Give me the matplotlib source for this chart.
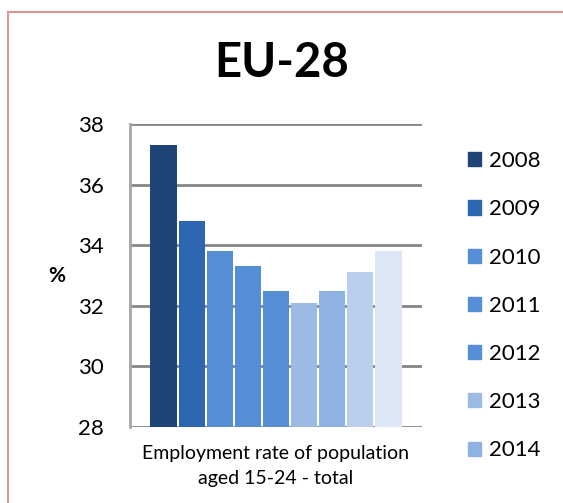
import matplotlib.pyplot as plt
from matplotlib.patches import Rectangle, Patch

# Data
years = ['2008', '2009', '2010', '2011', '2012', '2013', '2014', '2015', '2016']
values = [37.3, 34.8, 33.8, 33.3, 32.5, 32.1, 32.5, 33.1, 33.8]
colors = ['#1F4477', '#2E67B1', '#558ED5', '#558ED5', '#558ED5',
          '#9BBBE4', '#8EB2E2', '#B9CFED', '#DCE6F4']
legend_years = years[:7]
yticks = [28, 30, 32, 34, 36, 38]

plt.rcParams['font.family'] = ['Lato', 'DejaVu Sans']

W, H = 563, 503
fig = plt.figure(figsize=(W / 100, H / 100), dpi=100)

# pink frame (cut off at right and bottom)
fig.patches.append(Rectangle((8 / W, -0.1), 1.2, (H - 12) / H + 0.1,
                             transform=fig.transFigure, fill=False,
                             edgecolor='#D99694', linewidth=1.5))

ax = fig.add_axes([130 / W, (H - 427) / H, 292 / W, 303 / H])

n = len(values)
slot = 253 / 292 / n
xs = [0.5 - 253 / 292 / 2 + slot * (i + 0.5) for i in range(n)]
bars = ax.bar(xs, [v - 28 for v in values], bottom=28, width=slot * 0.93,
              color=colors, zorder=3)

ax.set_xlim(0, 1)
ax.set_ylim(28, 38)
ax.set_yticks(yticks)
ax.set_xticks([])
ax.yaxis.grid(True, color='#868686', linewidth=2, zorder=0)
for s in ['top', 'right', 'bottom']:
    ax.spines[s].set_visible(False)
ax.spines['left'].set_color('#A6A6A6')
ax.spines['left'].set_linewidth(2)
ax.tick_params(axis='y', length=0, labelsize=16, pad=19)
ax.set_xlabel('Employment rate of population\naged 15-24 - total',
              fontsize=14, labelpad=13, linespacing=1.6)
ax.set_ylabel('%', fontsize=15, fontweight='bold', rotation=0,
              labelpad=15, va='center')

fig.text(0.5, (H - 63) / H, 'EU-28', ha='center', va='center',
         fontsize=34, fontweight='bold')

handles = [Patch(color=colors[i]) for i in range(len(legend_years))]
fig.legend(handles, legend_years, loc='upper left',
           bbox_to_anchor=(457 / W, (H - 140) / H), frameon=False,
           fontsize=16, handlelength=0.6, handleheight=0.6,
           handletextpad=0.35, labelspacing=1.27, borderpad=0)

fig.savefig('out.png', dpi=100)
